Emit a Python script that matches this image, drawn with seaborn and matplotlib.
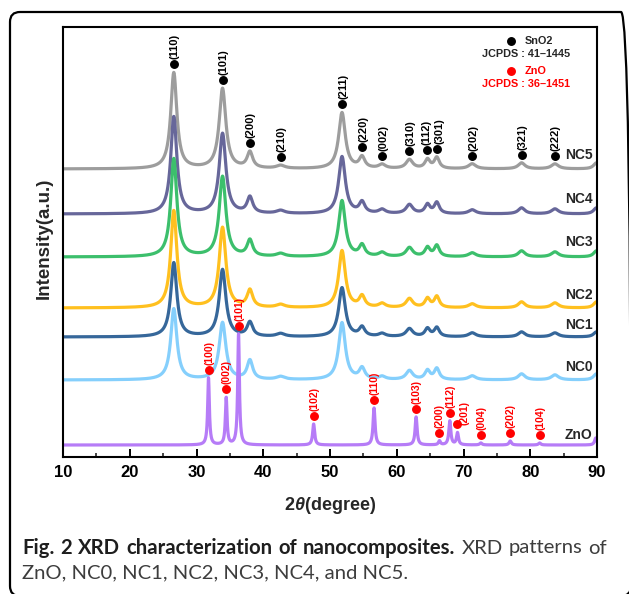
import numpy as np
import pandas as pd
import matplotlib
matplotlib.use("Agg")
import matplotlib.pyplot as plt
import seaborn as sns
from matplotlib.patches import FancyBboxPatch
from matplotlib.transforms import IdentityTransform
from matplotlib.ticker import MultipleLocator

# ---------------- data ----------------
samples = ["NC5", "NC4", "NC3", "NC2", "NC1", "NC0"]
sample_offsets = [288, 243, 200, 149, 120, 77]          # baseline of each stacked pattern
sample_colors = ["#9d9d9d", "#67679a", "#3cbf6c", "#ffc01f", "#36679a", "#85cffc"]

# SnO2 (JCPDS 41-1445) reflections
sno2_pos = [26.6, 33.9, 38.0, 42.6, 51.8, 54.8, 57.8, 61.9, 64.6, 66.0, 71.3, 78.7, 83.7, 89.9]
sno2_hkl = ["(110)", "(101)", "(200)", "(210)", "(211)", "(220)", "(002)", "(310)",
            "(112)", "(301)", "(202)", "(321)", "(222)"]
sno2_fwhm = [1.1, 1.2, 1.0, 1.5, 1.2, 1.0, 1.2, 1.2, 0.9, 0.9, 1.3, 1.2, 1.3, 1.0]
nc5_h = [96, 80, 16, 3, 56, 11, 4, 9, 9, 11, 5, 6, 5, 6]
nc4_h = [97, 80, 16, 3, 57, 11, 4, 9, 9, 11, 4, 6, 5, 6]
nc3_h = [98, 80, 16, 3, 56, 11, 4, 9, 9, 11, 4, 6, 5, 6]
nc2_h = [97, 80, 17, 3, 57, 11, 4, 9, 9, 11, 4, 6, 5, 6]
nc1_h = [74, 67, 14, 3, 49, 9, 3, 8, 8, 9, 4, 5, 4, 5]
nc0_h = [71, 57, 19, 3, 57, 11, 3, 9, 9, 11, 4, 6, 5, 6]
sample_heights = [nc5_h, nc4_h, nc3_h, nc2_h, nc1_h, nc0_h]

# ZnO (JCPDS 36-1451) reflections
zno_offset = 12
zno_color = "#b67cf7"
zno_pos = [31.8, 34.45, 36.3, 47.55, 56.6, 62.9, 66.4, 67.95, 69.1, 72.6, 77.0, 81.4, 89.8]
zno_hkl = ["(100)", "(002)", "(101)", "(102)", "(110)", "(103)", "(200)", "(112)",
           "(201)", "(004)", "(202)", "(104)"]
zno_h = [67, 47, 111, 21, 37, 28, 4, 24, 12, 2, 4, 2, 7]
zno_fwhm = [0.3, 0.3, 0.3, 0.35, 0.35, 0.35, 0.35, 0.35, 0.35, 0.4, 0.4, 0.4, 0.4]

two_theta = np.arange(10.0, 90.001, 0.02)


def pattern(offset, pos, heights, widths):
    y = np.full_like(two_theta, float(offset))
    for p, h, w in zip(pos, heights, widths):
        y += h / (1.0 + ((two_theta - p) / (w / 2.0)) ** 2)
    return y


frames = []
for name, off, hts in zip(samples, sample_offsets, sample_heights):
    frames.append(pd.DataFrame({"2theta": two_theta,
                                "I": pattern(off, sno2_pos, hts, sno2_fwhm),
                                "sample": name}))
frames.append(pd.DataFrame({"2theta": two_theta,
                            "I": pattern(zno_offset, zno_pos, zno_h, zno_fwhm),
                            "sample": "ZnO"}))
df = pd.concat(frames, ignore_index=True)

# ---------------- style ----------------
sns.set_theme(style="white")
plt.rcParams["font.family"] = ["Liberation Sans", "DejaVu Sans"]
plt.rcParams["mathtext.fontset"] = "custom"
plt.rcParams["mathtext.it"] = "Liberation Sans:italic:bold"
plt.rcParams["mathtext.rm"] = "Liberation Sans:bold"

W, H = 629, 594
fig = plt.figure(figsize=(W / 100, H / 100), dpi=100)
ax = fig.add_axes([63 / W, 1 - 457 / H, (597 - 63) / W, (457 - 27) / H])

palette = dict(zip(samples + ["ZnO"], sample_colors + [zno_color]))
draw_order = ["NC5", "NC4", "NC3", "NC2", "NC1", "NC0", "ZnO"]
for name in draw_order:
    sns.lineplot(data=df[df["sample"] == name], x="2theta", y="I", color=palette[name],
                 linewidth=2.3, estimator=None, sort=False, ax=ax, legend=False)

ax.set_xlim(10, 90)
ax.set_ylim(0, 430)
ax.set_xlabel("")
ax.set_ylabel("")
ax.set_yticks([])
ax.xaxis.set_major_locator(MultipleLocator(10))
ax.xaxis.set_minor_locator(MultipleLocator(5))
ax.tick_params(axis="x", which="major", direction="in", length=6, width=1.4,
               bottom=True, top=False, pad=6, labelsize=12, colors="black")
ax.tick_params(axis="x", which="minor", direction="in", length=3, width=1.2,
               bottom=True, top=False)
for lab in ax.get_xticklabels():
    lab.set_fontweight("bold")
for s in ax.spines.values():
    s.set_linewidth(1.5)
    s.set_color("black")

# ---------------- peak markers ----------------
sno2_label_dx = [0.15, 0.15, 0.15, 0.15, 0.15, 0.15, 0.15, 0.15, -0.2, 0.4, 0.15, 0.15, 0.15]
zno_label_dx = [0.1, 0.1, 0.1, 0.1, 0.1, 0.1, 0.0, 0.1, 1.0, 0.1, 0.1, 0.1]
zno_label_dy = [0, 0, 0, 0, 0, 0, 0, 0, -6, 0, 0, 0]

nc5_curve = df[df["sample"] == "NC5"]
for p, hkl, ldx in zip(sno2_pos, sno2_hkl, sno2_label_dx):
    yv = np.interp(p, nc5_curve["2theta"], nc5_curve["I"])
    dy = yv + 8
    ax.plot([p], [dy], "o", color="black", markersize=5.4, zorder=5)
    ax.text(p + ldx, dy + 5, hkl, rotation=90, ha="center", va="bottom",
            fontsize=8, fontweight="bold", color="black")

zno_curve = df[df["sample"] == "ZnO"]
for p, hkl, ldx, ldy in zip(zno_pos, zno_hkl, zno_label_dx, zno_label_dy):
    yv = np.interp(p, zno_curve["2theta"], zno_curve["I"])
    dy = yv + 8
    ax.plot([p], [dy], "o", color="#ff0000", markersize=5.4, zorder=5)
    ax.text(p + ldx, dy + 5 + ldy, hkl, rotation=90, ha="center", va="bottom",
            fontsize=7.5, fontweight="bold", color="#ff0000")

# sample names
name_y = [302, 258, 215, 162, 132, 90]
for name, yv in zip(samples, name_y):
    ax.text(89.3, yv, name, ha="right", va="center", fontsize=10, fontweight="bold")
ax.text(89.3, 22, "ZnO", ha="right", va="center", fontsize=10, fontweight="bold")

# legend block
ax.plot([77.1], [416], "o", color="black", markersize=5.4)
ax.text(79.2, 416, "SnO2", ha="left", va="center", fontsize=7.8, fontweight="bold")
ax.text(79.3, 403, "JCPDS : 41\u20131445", ha="center", va="center", fontsize=7.8,
        fontweight="bold")
ax.plot([77.1], [386], "o", color="#ff0000", markersize=5.4)
ax.text(79.2, 386, "ZnO", ha="left", va="center", fontsize=7.8, fontweight="bold",
        color="#ff0000")
ax.text(79.3, 373, "JCPDS : 36\u20131451", ha="center", va="center", fontsize=7.8,
        fontweight="bold", color="#ff0000")

# axis titles
fig.text(330 / W, 1 - 505 / H, r"2$\mathit{\theta}$(degree)", ha="center", va="center",
         fontsize=13, fontweight="bold")
fig.text(44 / W, 1 - 238 / H, "Intensity(a.u.)", rotation=90, ha="center", va="center",
         fontsize=13.5, fontweight="bold")

# ---------------- caption (first line justified word by word) ----------------
cap_font = ["Lato", "DejaVu Sans"]
renderer = fig.canvas.get_renderer()
line1_words = [("Fig.", "bold"), ("2", "bold"), ("XRD", "bold"),
               ("characterization", "bold"), ("of", "bold"), ("nanocomposites.", "bold"),
               ("XRD", "normal"), ("patterns", "normal"), ("of", "normal")]
line2 = "ZnO, NC0, NC1, NC2, NC3, NC4, and NC5."
cap_size = 11.5
left_px, right_px = 22, 607

# choose a size so the first line fits with at least a normal space between words
probe = fig.text(0, 0, " ".join(w for w, _ in line1_words), fontsize=cap_size,
                 fontweight="bold", family=cap_font)
natural = probe.get_window_extent(renderer).width
probe.remove()
size = cap_size * (right_px - left_px) / natural * 0.985

word_texts = []
for word, weight in line1_words:
    col = "#1e1e1e" if weight == "bold" else "#3d3d3d"
    word_texts.append(fig.text(0, 1 - 548 / H, word, ha="left", va="center",
                               fontsize=size, fontweight=weight, family=cap_font,
                               color=col))
widths = [t.get_window_extent(renderer).width for t in word_texts]
gap = ((right_px - left_px) - sum(widths)) / (len(widths) - 1)
xpos = left_px
for t, wdt in zip(word_texts, widths):
    t.set_x(xpos / W)
    xpos += wdt + gap
fig.text(left_px / W, 1 - 573 / H, line2, ha="left", va="center", fontsize=size,
         family=cap_font, color="#3d3d3d")

# outer rounded frame (right and bottom edges fall just outside the picture)
frame = FancyBboxPatch((10, -2), 621, 584, boxstyle="round,pad=0,rounding_size=10",
                       transform=IdentityTransform(), fill=False, edgecolor="black",
                       linewidth=1.6)
fig.patches.append(frame)

fig.savefig("out.png", dpi=100)
